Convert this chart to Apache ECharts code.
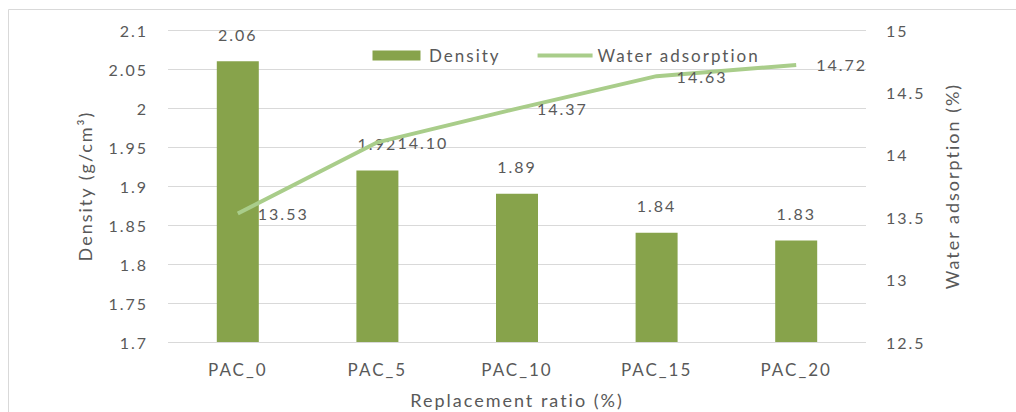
<!DOCTYPE html>
<html><head><meta charset="utf-8">
<script src="https://cdn.jsdelivr.net/npm/echarts@6/dist/echarts.min.js"></script>
<style>html,body{margin:0;padding:0;background:#fff}#c{width:1016px;height:412px}#c svg text{letter-spacing:2px}</style>
</head><body><div id="c"></div>
<script>
const categories = ['PAC_0','PAC_5','PAC_10','PAC_15','PAC_20'];
const density = [2.06, 1.92, 1.89, 1.84, 1.83];
const waterAdsorption = [13.53, 14.10, 14.37, 14.63, 14.72];
const densityTicks = {min: 1.7, max: 2.1, interval: 0.05};
const waterTicks = {min: 12.5, max: 15, interval: 0.5};

const txt = '#595959';
const font = 'Lato, sans-serif';
const chart = echarts.init(document.getElementById('c'), null, {renderer: 'svg'});
chart.setOption({
  animation: false,
  textStyle: {fontFamily: font, color: txt},
  graphic: [{type: 'rect', shape: {x: 8.5, y: 9.5, width: 1030, height: 430}, style: {fill: 'none', stroke: '#d9d9d9', lineWidth: 1}, silent: true}],
  grid: {left: 168, right: 150, top: 30, bottom: 70, outerBoundsMode: 'none', containLabel: false},
  legend: {
    left: 367.5, top: 42, itemWidth: 55, itemHeight: 10, itemGap: 51,
    textStyle: {fontSize: 17, color: txt, fontFamily: font},
    data: [{name: 'Density', icon: 'path://M0,0H48V10H0Z'}, {name: 'Water adsorption', icon: 'path://M0,0H55V4H0Z'}]
  },
  xAxis: {
    type: 'category', data: categories,
    axisLine: {show: false}, axisTick: {show: false},
    axisLabel: {fontSize: 17, color: txt, margin: 19},
    name: 'Replacement ratio (%)', nameLocation: 'middle', nameGap: 49,
    nameTextStyle: {fontSize: 18, color: txt}
  },
  yAxis: [{
    type: 'value', min: densityTicks.min, max: densityTicks.max, interval: densityTicks.interval,
    axisLine: {show: false}, axisTick: {show: false},
    axisLabel: {fontSize: 16, color: txt, margin: 20, formatter: v => String(+v.toFixed(2))},
    splitLine: {lineStyle: {color: '#d9d9d9', width: 1}},
    name: 'Density (g/cm³)', nameLocation: 'middle', nameGap: 74, nameRotate: 90,
    nameTextStyle: {fontSize: 18, color: txt}
  }, {
    type: 'value', min: waterTicks.min, max: waterTicks.max, interval: waterTicks.interval,
    axisLine: {show: false}, axisTick: {show: false},
    axisLabel: {fontSize: 16, color: txt, margin: 20},
    splitLine: {show: false},
    name: 'Water adsorption (%)', nameLocation: 'middle', nameGap: 77, nameRotate: 90,
    nameTextStyle: {fontSize: 18, color: txt}
  }],
  series: [{
    name: 'Density', type: 'bar', data: density, barWidth: 42, yAxisIndex: 0,
    itemStyle: {color: '#87A34B'},
    label: {show: true, position: 'top', distance: 19, fontSize: 16, color: txt, formatter: p => p.value.toFixed(2)}
  }, {
    name: 'Water adsorption', type: 'line', data: waterAdsorption, yAxisIndex: 1,
    symbol: 'circle', symbolSize: 0.01, showSymbol: true,
    lineStyle: {color: '#A9CD8A', width: 4}, itemStyle: {color: '#A9CD8A'},
    label: {show: true, position: 'right', distance: 20, fontSize: 16, color: txt, formatter: p => p.value.toFixed(2)}
  }]
});
</script></body></html>
